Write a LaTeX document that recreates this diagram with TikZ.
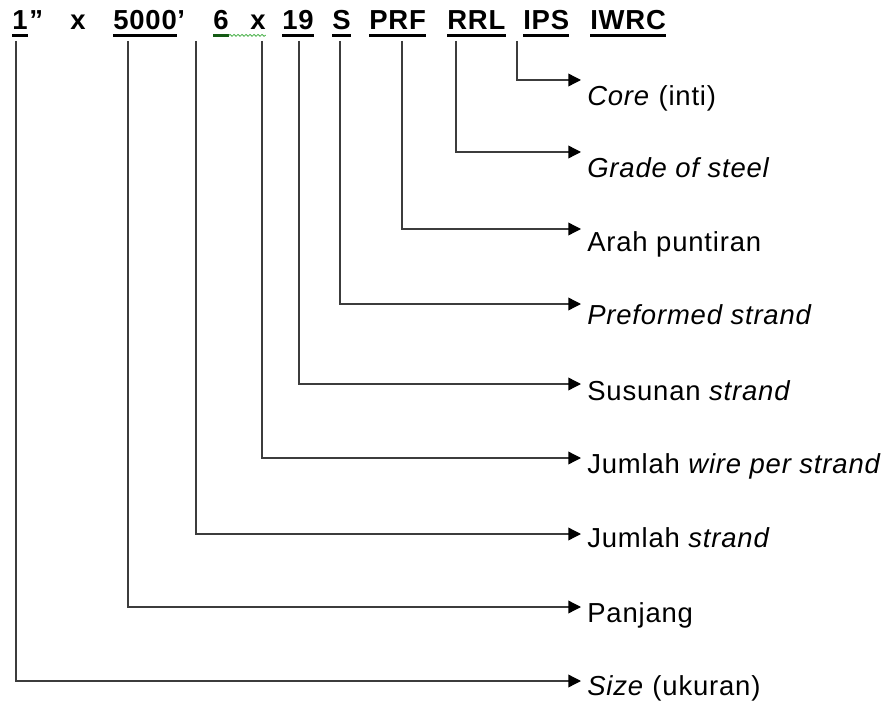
\documentclass[tikz,border=0pt]{standalone}
\usepackage{fontspec}
\setmainfont{Liberation Sans}[LetterSpace=3]
\usepackage{xcolor}
\definecolor{leadgray}{RGB}{60,60,60}
\definecolor{spellgreen}{RGB}{70,175,70}
\definecolor{darkgreen}{RGB}{20,90,20}
\usetikzlibrary{arrows.meta, decorations.pathmorphing}

\tikzset{
  token/.style={anchor=base west, inner sep=0pt, font=\fontsize{20.6}{24}\selectfont\bfseries},
  lbl/.style={anchor=base west, inner sep=0pt, font=\fontsize{20.6}{24}\selectfont},
  uline/.style={line width=2.2pt},
  lead/.style={draw=leadgray, line width=1pt, -{Triangle[length=9.5pt, width=9.5pt, color=black]}}
}

\begin{document}
\begin{tikzpicture}[x=0.75pt, y=-0.75pt]
  \useasboundingbox (0,0) rectangle (896,706);

  % Code line
  \node[token] (one) at (12,30) {1};
  \node[token] (inch) at ([xshift=1pt]one.base east) {”};
  \node[token] (x1) at (70,30) {x};
  \node[token] (len) at (113,30) {5000};
  \node[token] (ft) at (len.base east) {’};
  \node[token] (six) at (213,30) {6};
  \node[token] (x2) at (250,30) {x};
  \node[token] (nine) at (282,30) {19};
  \node[token] (s) at (332,30) {S};
  \node[token] (prf) at (369,30) {PRF};
  \node[token] (rrl) at (447,30) {RRL};
  \node[token] (ips) at (523,30) {IPS};
  \node[token] (iwrc) at (590,30) {IWRC};

  % Underlines
  \foreach \n in {one, len, nine, s, prf, rrl, ips, iwrc}
    \draw[uline] ([yshift=-4pt]\n.base west) -- ([yshift=-4pt]\n.base east);
  \draw[uline, draw=darkgreen] ([yshift=-4pt]six.base west) -- ([yshift=-4pt]six.base east);
  \draw[spellgreen, line width=0.6pt, decorate,
        decoration={snake, amplitude=0.7pt, segment length=3pt}]
       ([yshift=-4pt]six.base east) -- ([yshift=-4pt]x2.base east);

  % Top ends of the leads
  \coordinate (tSize) at (16,41);
  \coordinate (tLen) at (128,41);
  \coordinate (tStrand) at (196,41);
  \coordinate (tWire) at (262,41);
  \coordinate (tLay) at (299,41);
  \coordinate (tPre) at (340,41);
  \coordinate (tDir) at (402,41);
  \coordinate (tGrade) at (456,41);
  \coordinate (tCore) at (517,41);

  % Arrow tips
  \coordinate (aCore) at (581,80);
  \coordinate (aGrade) at (581,152);
  \coordinate (aDir) at (581,229);
  \coordinate (aPre) at (581,304);
  \coordinate (aLay) at (581,384);
  \coordinate (aWire) at (581,458);
  \coordinate (aStrand) at (581,534);
  \coordinate (aLen) at (581,607);
  \coordinate (aSize) at (581,681);

  % Labels
  \node[lbl] (core) at (587,106) {\textit{Core} (inti)};
  \node[lbl] (grade) at (587,178) {\textit{Grade of steel}};
  \node[lbl] (dir) at (587,252) {Arah puntiran};
  \node[lbl] (pre) at (587,324) {\textit{Preformed strand}};
  \node[lbl] (lay) at (587,400) {Susunan \textit{strand}};
  \node[lbl] (wire) at (587,473) {Jumlah \textit{wire per strand}};
  \node[lbl] (strand) at (587,547) {Jumlah \textit{strand}};
  \node[lbl] (panjang) at (587,622) {Panjang};
  \node[lbl] (size) at (587,695) {\textit{Size} (ukuran)};

  % Leads
  \draw[lead] (tCore) |- (aCore);
  \draw[lead] (tGrade) |- (aGrade);
  \draw[lead] (tDir) |- (aDir);
  \draw[lead] (tPre) |- (aPre);
  \draw[lead] (tLay) |- (aLay);
  \draw[lead] (tWire) |- (aWire);
  \draw[lead] (tStrand) |- (aStrand);
  \draw[lead] (tLen) |- (aLen);
  \draw[lead] (tSize) |- (aSize);
\end{tikzpicture}
\end{document}
